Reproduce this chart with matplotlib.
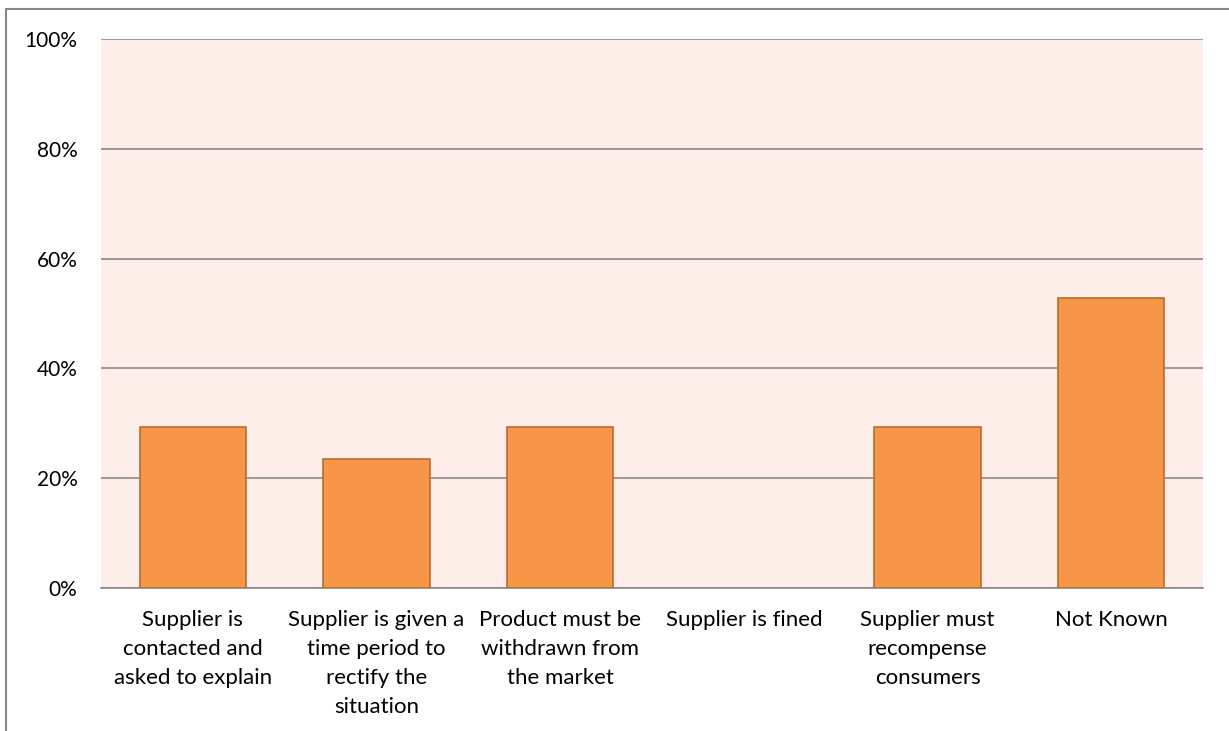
import matplotlib.pyplot as plt
import matplotlib.patches as mpatches
from matplotlib.ticker import PercentFormatter

plt.rcParams['font.family'] = ['Lato', 'DejaVu Sans']

# data (share of respondents)
categories = [
    'Supplier is\ncontacted and\nasked to explain',
    'Supplier is given a\ntime period to\nrectify the\nsituation',
    'Product must be\nwithdrawn from\nthe market',
    'Supplier is fined',
    'Supplier must\nrecompense\nconsumers',
    'Not Known',
]
values = [29.4, 23.5, 29.4, 0.0, 29.4, 52.9]

fig = plt.figure(figsize=(12.29, 7.31), dpi=100)
ax = fig.add_axes([0.0822, 0.1956, 0.8967, 0.751])

ax.set_facecolor('#FDEEE9')
x = range(len(categories))
edge_widths = [1.2 if v > 0 else 0 for v in values]
ax.bar(x, values, width=0.58, color='#F79646', edgecolor='#B66D31',
       linewidth=edge_widths, zorder=3)

ax.set_ylim(0, 100)
ax.set_xlim(-0.5, len(categories) - 0.5)
ax.set_yticks([0, 20, 40, 60, 80, 100])
ax.yaxis.set_major_formatter(PercentFormatter(decimals=0))
ax.grid(axis='y', color='#898989', linewidth=1.2, zorder=1)
ax.set_xticks(list(x))
ax.set_xticklabels(categories, fontsize=16, linespacing=1.55, va='top')
ax.tick_params(axis='both', length=0)
ax.tick_params(axis='y', pad=17, labelsize=15)
ax.tick_params(axis='x', pad=16)

for side in ['top', 'right', 'left']:
    ax.spines[side].set_visible(False)
ax.spines['bottom'].set_color('#898989')
ax.spines['bottom'].set_linewidth(1.2)

# outer chart border (only left and top edges visible in frame)
border = mpatches.Rectangle((6 / 1229, -0.1), 1.2, 1 - 9 / 731 + 0.1,
                            transform=fig.transFigure, fill=False,
                            edgecolor='#898989', linewidth=1.5, clip_on=False)
fig.patches.append(border)

fig.savefig('out.png', dpi=100)
